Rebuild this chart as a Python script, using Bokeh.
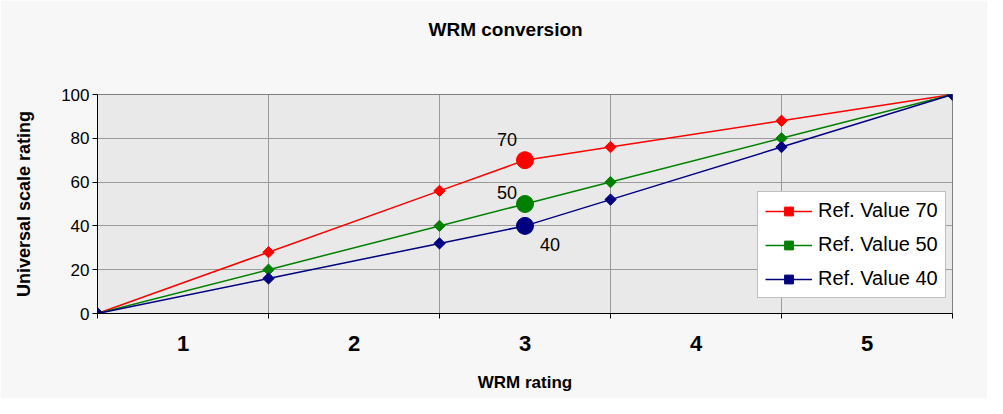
import math
from bokeh.plotting import figure
from bokeh.models import FixedTicker, Label, Legend, LegendItem, ColumnDataSource
from bokeh.embed import file_html
from bokeh.resources import INLINE

# ---- data ----
x_pos = [0, 1, 2, 2.5, 3, 4, 5]
ref70 = [0, 28, 56, 70, 76, 88, 100]
ref50 = [0, 20, 40, 50, 60, 80, 100]
ref40 = [0, 16, 32, 40, 52, 76, 100]
series_names = ["Ref. Value 70", "Ref. Value 50", "Ref. Value 40"]
series_colors = ["#ff0000", "#008000", "#000080"]
ref_points = [70, 50, 40]
cat_ticks = [0.5, 1.5, 2.5, 3.5, 4.5]
cat_labels = ["1", "2", "3", "4", "5"]
y_ticks = [0, 20, 40, 60, 80, 100]
title_text = "WRM conversion"

FONT = "Liberation Sans"

p = figure(frame_width=855, frame_height=219, x_range=(0, 5), y_range=(0, 100),
           output_backend="svg", toolbar_location=None,
           min_border_left=97, min_border_right=35, min_border_top=94, min_border_bottom=85)
p.background_fill_color = "#e9e9e9"
p.border_fill_color = "#f7f7f7"
p.outline_line_color = "#808080"
p.outline_line_width = 1

# title: padded with blank lines so that it sits high in the top border
p.title.text = title_text + "\n \n "
p.title.align = "left"
p.title.offset = 331
p.title.vertical_align = "top"
p.title.text_font = FONT
p.title.text_font_size = "19px"
p.title.text_font_style = "bold"
p.title.text_color = "#000000"
p.title.standoff = 22

# x axis
p.xaxis.ticker = FixedTicker(ticks=cat_ticks, minor_ticks=[0, 1, 2, 3, 4, 5])
p.xaxis.major_label_overrides = {t: l for t, l in zip(cat_ticks, cat_labels)}
p.xaxis.major_tick_line_color = None
p.xaxis.minor_tick_out = 5
p.xaxis.minor_tick_in = 0
p.xaxis.minor_tick_line_color = "#000000"
p.xaxis.axis_line_color = "#000000"
p.xaxis.major_label_text_font = FONT
p.xaxis.major_label_text_font_size = "22px"
p.xaxis.major_label_text_font_style = "bold"
p.xaxis.major_label_text_color = "#000000"
p.xaxis.major_label_standoff = 16
p.xaxis.axis_label = "WRM rating"
p.xaxis.axis_label_text_font = FONT
p.xaxis.axis_label_text_font_size = "17px"
p.xaxis.axis_label_text_font_style = "bold"
p.xaxis.axis_label_text_color = "#000000"
p.xaxis.axis_label_standoff = 19
p.xgrid.ticker = FixedTicker(ticks=[0, 1, 2, 3, 4, 5])
p.xgrid.grid_line_color = "#9a9a9a"

# y axis
p.yaxis.ticker = FixedTicker(ticks=y_ticks)
p.yaxis.major_tick_out = 5
p.yaxis.major_tick_in = 0
p.yaxis.major_tick_line_color = "#000000"
p.yaxis.minor_tick_line_color = None
p.yaxis.axis_line_color = "#000000"
p.yaxis.major_label_text_font = FONT
p.yaxis.major_label_text_font_size = "17px"
p.yaxis.major_label_text_color = "#000000"
p.yaxis.major_label_standoff = 3
p.yaxis.axis_label = "Universal scale rating"
p.yaxis.axis_label_text_font = FONT
p.yaxis.axis_label_text_font_size = "18px"
p.yaxis.axis_label_text_font_style = "bold"
p.yaxis.axis_label_text_color = "#000000"
p.yaxis.axis_label_standoff = 24
p.ygrid.grid_line_color = "#9a9a9a"

items = []
for vals, name, col, rp in zip([ref70, ref50, ref40], series_names, series_colors, ref_points):
    src = ColumnDataSource(dict(x=x_pos, y=vals, ang=[math.pi / 4] * len(x_pos)))
    ln = p.line("x", "y", source=src, line_color=col, line_width=1.5)
    mk = p.scatter("x", "y", source=src, marker="square", angle="ang", size=8,
                   fill_color=col, line_color=col)
    items.append(LegendItem(label=name, renderers=[ln, mk]))
    p.scatter([2.5], [rp], marker="circle", size=17, fill_color=col, line_color=col)

legend = Legend(items=items, location=(660, 15))
legend.label_text_font = FONT
legend.label_text_font_size = "20px"
legend.label_text_color = "#000000"
legend.glyph_width = 47
legend.glyph_height = 22
legend.label_height = 22
legend.label_standoff = 6
legend.spacing = 11
legend.padding = 7
legend.margin = 0
legend.border_line_color = "#808080"
legend.background_fill_color = "#ffffff"
legend.background_fill_alpha = 1
p.add_layout(legend, "center")

offsets = [(-18, 21), (-18, 12), (25, -19)]
for rp, (dx, dy) in zip(ref_points, offsets):
    p.add_layout(Label(x=2.5, y=rp, x_offset=dx, y_offset=dy, text=str(rp),
                       text_font=FONT, text_font_size="18px", text_align="center",
                       text_baseline="middle", text_color="#000000"))

open("out.html", "w").write(file_html(p, INLINE))
